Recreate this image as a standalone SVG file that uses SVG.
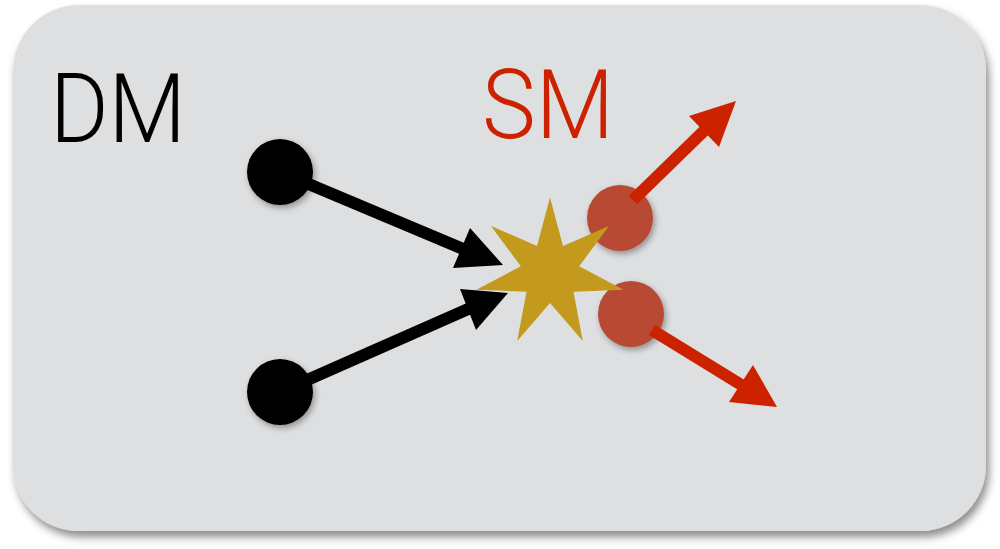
<svg xmlns="http://www.w3.org/2000/svg" width="1000" height="549" viewBox="0 0 1000 549">
<style>
.lbl{font-family:Roboto,"Liberation Sans",sans-serif;font-weight:300;font-size:96px}
.blk{stroke:#000;stroke-width:12;fill:none}
.red{stroke:#cc2200;stroke-width:12;fill:none}
</style>
<defs>
<filter id="boxsh" x="-5%" y="-5%" width="110%" height="115%">
<feDropShadow dx="3" dy="6" stdDeviation="4" flood-color="#000" flood-opacity="0.45"/>
</filter>
<filter id="sh" x="-30%" y="-30%" width="160%" height="160%">
<feDropShadow dx="2" dy="3" stdDeviation="3" flood-color="#000" flood-opacity="0.35"/>
</filter>
</defs>
<g id="frame">
<rect x="13" y="5" width="973" height="526" rx="66" fill="#dddfe1" filter="url(#boxsh)"/>
</g>
<g id="labels">
<text class="lbl" x="50" y="142" fill="#000" textLength="136" lengthAdjust="spacingAndGlyphs">DM</text>
<text class="lbl" x="482" y="138" fill="#cc2200" textLength="132" lengthAdjust="spacingAndGlyphs">SM</text>
</g>
<g id="connectors">
<line class="blk" x1="280" y1="172" x2="468" y2="251"/>
<polygon points="470,228 453,268 503,265" fill="#000"/>
<line class="blk" x1="280" y1="392" x2="475" y2="306"/>
<polygon points="460,289 476,330 508,293" fill="#000"/>
</g>
<g id="dm1"><circle cx="280" cy="172" r="33" fill="#000" filter="url(#sh)"/></g>
<g id="dm2"><circle cx="280" cy="392" r="33" fill="#000" filter="url(#sh)"/></g>
<g id="sm1"><circle cx="620" cy="218" r="33" fill="#b84833" filter="url(#sh)"/></g>
<g id="sm2"><circle cx="631" cy="314" r="33" fill="#b84833" filter="url(#sh)"/></g>
<g id="sm-connectors">
<line class="red" x1="633" y1="200" x2="710" y2="125"/>
<polygon points="689,116 719,147 736,101" fill="#cc2200"/>
<line class="red" x1="652" y1="330" x2="748" y2="389"/>
<polygon points="753,365 729,402 777,407" fill="#cc2200"/>
</g>
<g id="collision">
<polygon points="550,197.5 563,246 609,225.9 579.2,266.3 623.6,289.8 573.5,291.7 582.8,341 550,303 517.2,341 526.5,291.7 476.4,289.8 520.8,266.3 491,225.9 537,246" fill="#c39a1e"/>
</g>
</svg>
